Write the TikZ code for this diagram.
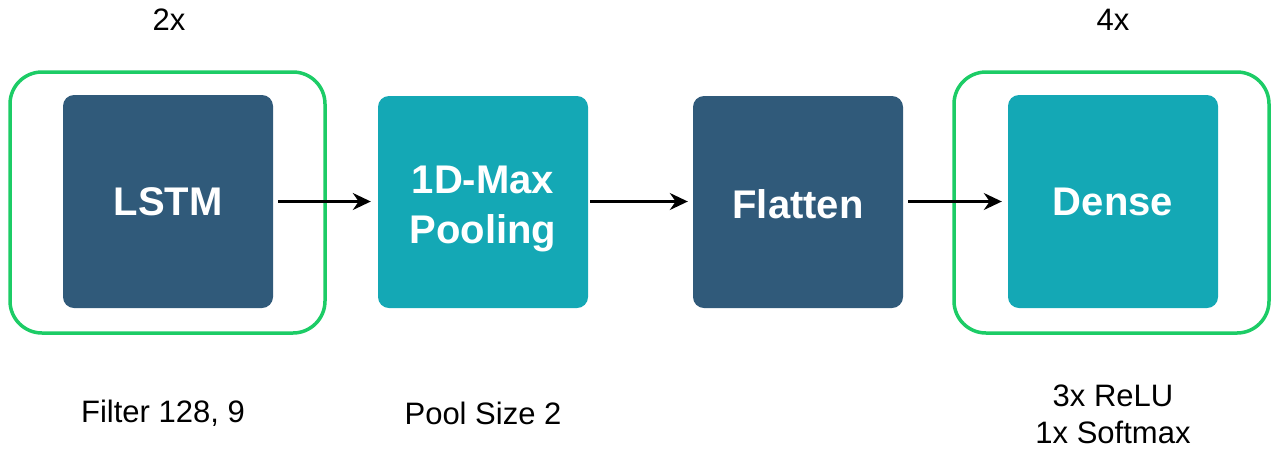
\documentclass[tikz,border=0pt]{standalone}
\usepackage{fontspec}
\setmainfont{Liberation Sans}
\usetikzlibrary{arrows.meta}
\definecolor{dblue}{RGB}{48,90,122}
\definecolor{teal2}{RGB}{20,168,181}
\definecolor{grn}{RGB}{28,204,102}
\begin{document}
\begin{tikzpicture}[x=1pt,y=-1pt,
  layer/.style={rounded corners=11pt,inner sep=0pt,text=white,font=\fontsize{40}{50}\selectfont\bfseries,align=center},
  grp/.style={draw=grn,line width=3.5pt,rounded corners=32pt},
  conn/.style={line width=2.2pt,-{Stealth[length=18pt,width=17pt]}},
  lbl/.style={font=\fontsize{31}{37}\selectfont,align=center}]
\useasboundingbox (0,0) rectangle (1279,459);
\draw[grp] (10,72) rectangle (325,333);
\draw[grp] (954,72) rectangle (1269,333);
\fill[dblue,rounded corners=11pt] (63,95) rectangle (273,308);
\fill[teal2,rounded corners=11pt] (378,96) rectangle (588,308);
\fill[dblue,rounded corners=11pt] (693,96) rectangle (903,308);
\fill[teal2,rounded corners=11pt] (1008,95) rectangle (1218,308);
\node[layer,minimum width=210pt,minimum height=212pt] (lstm) at (168,201.5) {LSTM};
\node[layer,minimum width=210pt,minimum height=212pt] (pool) at (483,209) {1D-Max\\Pooling};
\node[layer,minimum width=210pt,minimum height=212pt] (flat) at (798,204) {Flatten};
\node[layer,minimum width=210pt,minimum height=212pt] (dense) at (1113,201.5) {Dense};
\draw[conn,shorten <=5pt,shorten >=7pt] (lstm.east) -- (pool.west|-lstm.east);
\draw[conn,shorten <=2pt,shorten >=5pt] (pool.east|-lstm.east) -- (flat.west|-lstm.east);
\draw[conn,shorten <=5pt,shorten >=6pt] (flat.east|-dense.west) -- (dense.west);
\node[lbl] (t2x) at (169,20) {2x};
\node[lbl] (t4x) at (1113,20) {4x};
\node[lbl] (tfil) at (163,413) {Filter 128, 9};
\node[lbl] (tpool) at (483,413) {Pool Size 2};
\node[lbl] (tden) at (1113,414) {3x ReLU\\1x Softmax};
\end{tikzpicture}
\end{document}
